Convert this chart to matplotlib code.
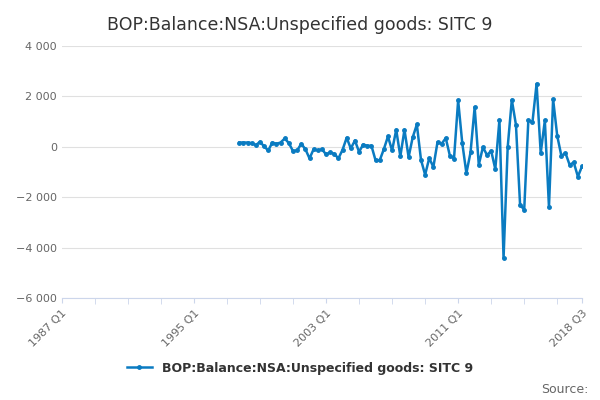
import matplotlib.pyplot as plt
import numpy as np

# quarterly values, 1997 Q4 .. 2018 Q3
values = [170, 170, 170, 145, 65, 200, 15, -145, 170, 120, 170, 330, 145, -170, -145, 120,
          -95, -460, -95, -145, -95, -300, -225, -280, -460, -120, 360, -65, 250, -200, 90, 40,
          40, -540, -540, -95, 410, -145, 675, -380, 675, -410, 380, 885,
          -515, -1110, -450, -805, 185, 120, 345, -355, -465, 1840, 145, -1045, -225, 1575,
          -715, -15, -330, -160, -885, 1070, -4420, -15, 1865, 875, -2300, -2500, 1045, 980,
          2500, -250, 1045, -2395, 1890, 435, -355, -250, -715, -620, -1180, -780]
start_q = (1997 - 1987) * 4 + 3  # quarters after 1987 Q1
x = np.arange(start_q, start_q + len(values))

tick_pos = [0, 32, 64, 96, 126]
tick_labels = ["1987 Q1", "1995 Q1", "2003 Q1", "2011 Q1", "2018 Q3"]
title = "BOP:Balance:NSA:Unspecified goods: SITC 9"
color = "#0a7bc1"

fig = plt.figure(figsize=(6, 4), dpi=100)
ax = fig.add_axes([0.103, 0.255, 0.867, 0.63])
ax.plot(x, values, color=color, lw=1.8, marker="o", ms=2.5, label=title)
ax.set_xlim(0, 126)
ax.set_ylim(-6000, 4000)
ax.set_yticks(range(-6000, 4001, 2000))
ax.set_yticklabels([f"{v:,}".replace(",", " ").replace("-", "\u2212") for v in range(-6000, 4001, 2000)])
ax.set_xticks(tick_pos)
ax.set_xticklabels(tick_labels, rotation=45, ha="right", rotation_mode="anchor")
ax.grid(axis="y", color="#e0e0e0", lw=0.8)
for s in ["top", "right", "left"]:
    ax.spines[s].set_visible(False)
ax.spines["bottom"].set_color("#ccd6eb")
ax.tick_params(axis="y", length=0, labelsize=8, colors="#666666")
ax.tick_params(axis="x", labelsize=8, colors="#666666", color="#ccd6eb")
ax.set_xticks(range(0, 127, 8), minor=True)
ax.tick_params(axis="x", which="minor", length=4, color="#ccd6eb")
fig.suptitle(title, y=0.96, fontsize=12.5, color="#333333")
fig.legend(loc="lower center", bbox_to_anchor=(0.5, 0.035), frameon=False, fontsize=9,
           handlelength=2)
for t in fig.legends[0].get_texts():
    t.set_fontweight("bold")
    t.set_color("#333333")
fig.text(0.98, 0.01, "Source:", ha="right", va="bottom", fontsize=9, color="#666666")
fig.savefig("out.png")
